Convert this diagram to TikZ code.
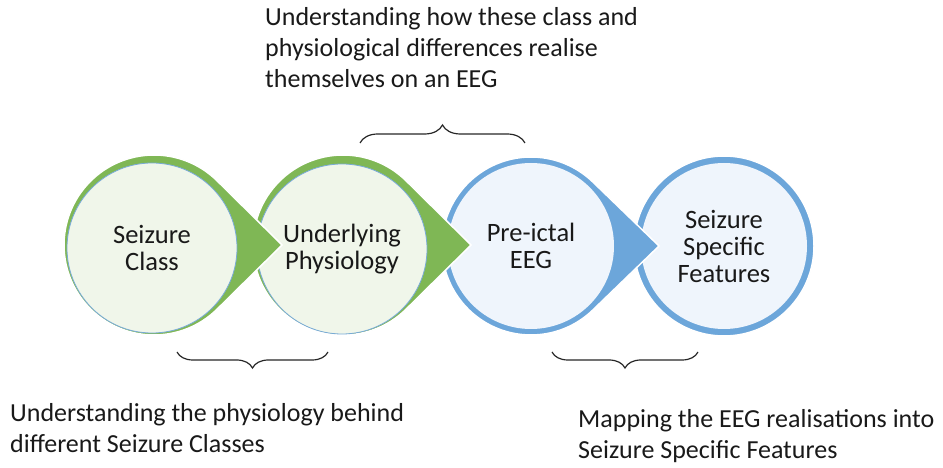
\documentclass[tikz,border=0pt]{standalone}
\usepackage{fontspec}
\setmainfont{Carlito}
\usetikzlibrary{decorations.pathreplacing}
\definecolor{stepgreen}{RGB}{127, 183, 85}
\definecolor{stepblue}{RGB}{108, 166, 218}
\definecolor{fillgreen}{RGB}{240, 246, 234}
\definecolor{fillblue}{RGB}{239, 245, 252}
\definecolor{ringedge}{RGB}{120, 170, 215}
\definecolor{textdark}{RGB}{25, 25, 25}
\newcommand{\teardrop}[4]{%
    \begin{scope}[shift={(#1,#2)}]
        % Ring with its pointed tip
        \fill[#3, draw=white, line width=1.5pt]
            (46:#4) arc (46:314:#4) -- (128,0) -- cycle;
    \end{scope}
}

\begin{document}
\begin{tikzpicture}[
    x=1pt, y=1pt,
    every node/.style={text=textdark},
    stage text/.style={font=\fontsize{26.5}{27}\selectfont, align=center},
    note text/.style={font=\fontsize{26}{31}\selectfont, align=left,
        anchor=north west, inner sep=0pt},
    green body/.style={circle, minimum size=170, inner sep=0pt,
        fill=fillgreen, draw=ringedge, line width=0.8pt},
    blue body/.style={circle, minimum size=166, inner sep=0pt, fill=fillblue},
    span brace/.style={draw=black!85, line width=1.2pt, decorate,
        decoration={brace, amplitude=#1}}
]
\useasboundingbox (0,0) rectangle (943,468);

% =============================================
% Process circles (right to left, tips on top)
% =============================================

% Seizure specific features (no tip)
\fill[stepblue, draw=white, line width=1.5pt] (724,222) circle (90);
\node[blue body, stage text] (features) at (724,222)
    {Seizure\\Specific\\Features};

% Pre-ictal EEG
\teardrop{531}{222}{stepblue}{89}
\node[blue body, stage text] (preictal) at (531,222) {Pre-ictal\\EEG};

% Underlying physiology
\teardrop{343}{223}{stepgreen}{90}
\node[green body, stage text] (physio) at (342,219)
    {Underlying\\Physiology};

% Seizure class
\teardrop{154}{223}{stepgreen}{90}
\node[green body, stage text] (class) at (152,220) {Seizure\\Class};

% =============================================
% Braces and notes
% =============================================

% Top brace over physiology and EEG
\coordinate (topL) at (360,325);
\coordinate (topR) at (525,325);
\draw[span brace=18pt] (topL) -- (topR);
\node[note text] (eegnote) at (265,461)
    {Understanding how these class and\\physiological differences realise\\themselves on an EEG};

% Bottom brace under class and physiology
\coordinate (leftL) at (177,116);
\coordinate (leftR) at (328,116);
\draw[span brace=16pt, decoration={mirror}] (leftL) -- (leftR);
\node[note text] (physionote) at (10,65)
    {Understanding the physiology behind\\different Seizure Classes};

% Bottom brace under EEG and features
\coordinate (rightL) at (552,116);
\coordinate (rightR) at (698,116);
\draw[span brace=16pt, decoration={mirror}] (rightL) -- (rightR);
\node[note text] (mapnote) at (578,59)
    {Mapping the EEG realisations into\\Seizure Specific Features};

\end{tikzpicture}
\end{document}
